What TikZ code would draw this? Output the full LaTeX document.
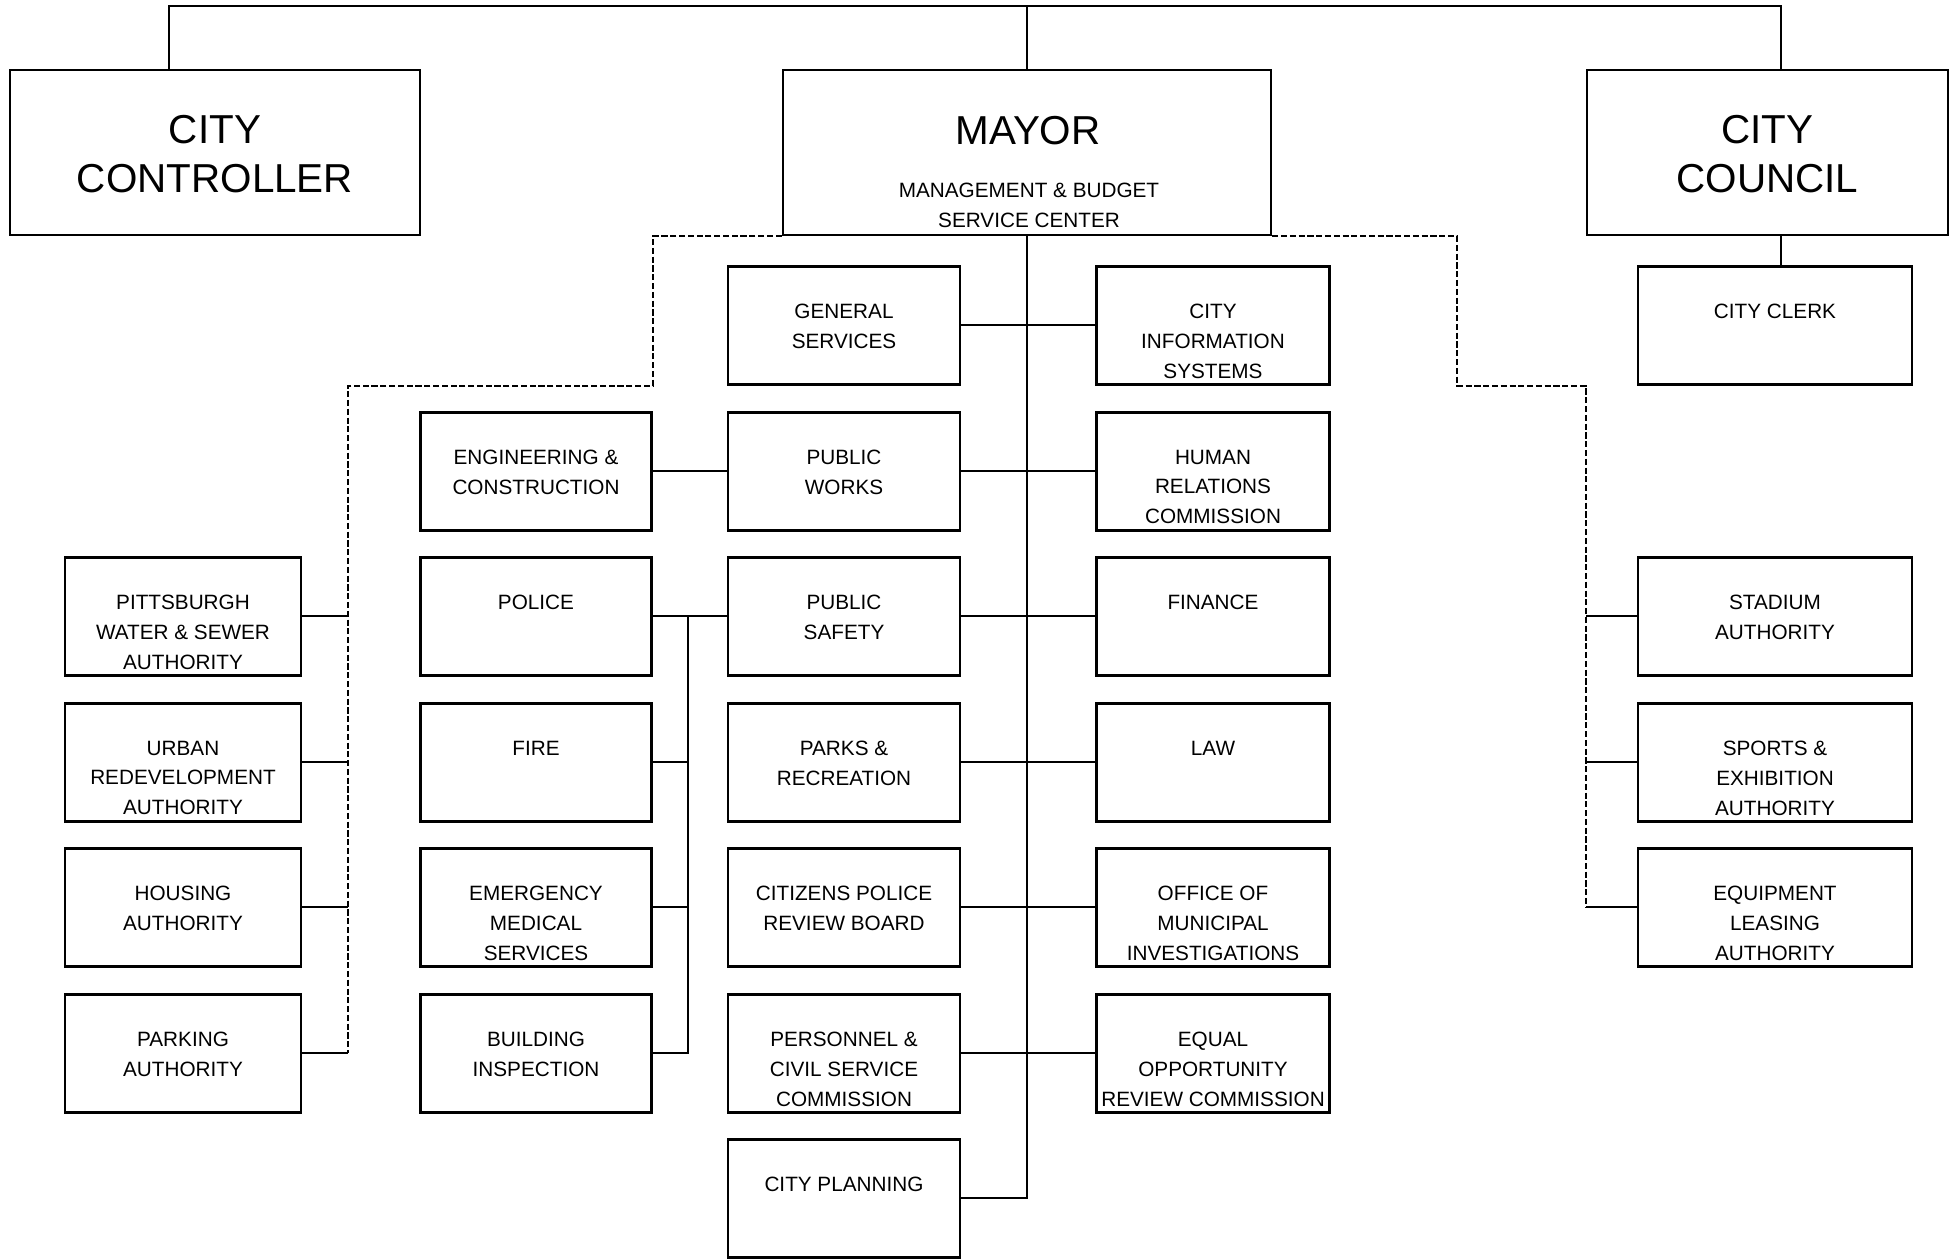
\documentclass[tikz,border=0pt]{standalone}
\usepackage{fontspec}
\setmainfont{Liberation Sans}
\usetikzlibrary{positioning}

\tikzset{
  topbox/.style={draw, line width=1.5pt, minimum width=#1, minimum height=3.3cm, inner sep=0pt},
  deptbox/.style={draw, line width=1.5pt, anchor=north, minimum width=#1, minimum height=2.36cm, inner sep=0pt},
  deptbox/.default=4.64cm,
  depttext/.style={anchor=north, yshift=-0.77cm, inner sep=0pt, align=center, font=\fontsize{11.8}{17}\selectfont},
  bigtext/.style={align=center, inner sep=0pt, yshift=-0.04cm, font=\fontsize{23}{27.8}\selectfont},
  smalltext/.style={align=center, inner sep=0pt, font=\fontsize{11.8}{17}\selectfont},
  link/.style={line width=1.1pt},
  dotlink/.style={line width=1.1pt, dash pattern=on 3.5pt off 1.5pt},
}

% box with its text at the top
\newcommand{\dept}[5]{%
  \node[deptbox=#2] (#1) at (#3,#4) {};
  \node[depttext] (#1-txt) at (#1.north) {#5};
}

\begin{document}
\begin{tikzpicture}[x=0.02cm, y=-0.02cm]
    \useasboundingbox (0,0) rectangle (1958,1258);
    %Top
    \node[topbox=8.2cm] (ctrl) at (215,152.5) {};
    \node[bigtext] (ctrl-txt) at (ctrl.center) {CITY\\CONTROLLER};
    \node[topbox=9.76cm] (mayor) at (1027,152.5) {};
    \node[bigtext] (mayor-txt) at (1028,128.6) {MAYOR};
    \node[smalltext] (mayor-sub) at (1029,205.5) {MANAGEMENT \& BUDGET\\SERVICE CENTER};
    \node[topbox=7.22cm] (council) at (1767.5,152.5) {};
    \node[bigtext] (council-txt) at (council.center) {CITY\\COUNCIL};
    \coordinate (top-l) at (169,6);
    \coordinate (top-r) at (1781,6);
    \draw[link] (ctrl.north -| top-l) -- (top-l) -- (top-r) -- (council.north -| top-r);
    \draw[link] (mayor.north) -- (mayor.north |- top-l);
    %Row 1
    \dept{gs}{4.64cm}{844}{265}{GENERAL\\SERVICES}
    \dept{cis}{4.66cm}{1213}{265}{CITY\\INFORMATION\\SYSTEMS}
    \dept{clerk}{5.48cm}{1775}{265}{CITY CLERK}
    %Row 2
    \dept{eng}{4.62cm}{536}{411}{ENGINEERING \&\\CONSTRUCTION}
    \dept{pw}{4.64cm}{844}{411}{PUBLIC\\WORKS}
    \dept{hrc}{4.66cm}{1213}{411}{HUMAN\\RELATIONS\\COMMISSION}
    %Row 3
    \dept{pwsa}{4.72cm}{183}{556}{PITTSBURGH\\WATER \& SEWER\\AUTHORITY}
    \dept{police}{4.62cm}{536}{556}{POLICE}
    \dept{ps}{4.64cm}{844}{556}{PUBLIC\\SAFETY}
    \dept{fin}{4.66cm}{1213}{556}{FINANCE}
    \dept{stadium}{5.48cm}{1775}{556}{STADIUM\\AUTHORITY}
    %Row 4
    \dept{ura}{4.72cm}{183}{702}{URBAN\\REDEVELOPMENT\\AUTHORITY}
    \dept{fire}{4.62cm}{536}{702}{FIRE}
    \dept{parks}{4.64cm}{844}{702}{PARKS \&\\RECREATION}
    \dept{law}{4.66cm}{1213}{702}{LAW}
    \dept{sports}{5.48cm}{1775}{702}{SPORTS \&\\EXHIBITION\\AUTHORITY}
    %Row 5
    \dept{housing}{4.72cm}{183}{847}{HOUSING\\AUTHORITY}
    \dept{ems}{4.62cm}{536}{847}{EMERGENCY\\MEDICAL\\SERVICES}
    \dept{cprb}{4.64cm}{844}{847}{CITIZENS POLICE\\REVIEW BOARD}
    \dept{omi}{4.66cm}{1213}{847}{OFFICE OF\\MUNICIPAL\\INVESTIGATIONS}
    \dept{equip}{5.48cm}{1775}{847}{EQUIPMENT\\LEASING\\AUTHORITY}
    %Row 6
    \dept{parking}{4.72cm}{183}{993}{PARKING\\AUTHORITY}
    \dept{bldg}{4.62cm}{536}{993}{BUILDING\\INSPECTION}
    \dept{pcsc}{4.64cm}{844}{993}{PERSONNEL \&\\CIVIL SERVICE\\COMMISSION}
    \dept{eorc}{4.66cm}{1213}{993}{EQUAL\\OPPORTUNITY\\REVIEW COMMISSION}
    %Row 7
    \dept{plan}{4.64cm}{844}{1138}{CITY PLANNING}
    %Council line
    \draw[link] (council.south -| top-r) -- (clerk.north -| top-r);
    %Mayor spine
    \draw[link] (mayor.south) -- (mayor.south |- plan.east) -- (plan.east);
    \draw[link] (gs.east) -- (cis.west);
    \draw[link] (pw.east) -- (hrc.west);
    \draw[link] (ps.east) -- (fin.west);
    \draw[link] (parks.east) -- (law.west);
    \draw[link] (cprb.east) -- (omi.west);
    \draw[link] (pcsc.east) -- (eorc.west);
    %Public works and safety
    \draw[link] (eng.east) -- (pw.west);
    \coordinate (bus) at (688,0);
    \draw[link] (police.east) -- (ps.west);
    \draw[link] (police.east -| bus) -- (bldg.east -| bus) -- (bldg.east);
    \draw[link] (fire.east) -- (fire.east -| bus);
    \draw[link] (ems.east) -- (ems.east -| bus);
    %Left authorities
    \coordinate (lbus) at (348,0);
    \draw[dotlink] (mayor.south west) -- (mayor.south west -| eng.east) -- (gs.south -| eng.east)
        -- (gs.south -| lbus) -- (parking.east -| lbus);
    \draw[link] (pwsa.east) -- (pwsa.east -| lbus);
    \draw[link] (ura.east) -- (ura.east -| lbus);
    \draw[link] (housing.east) -- (housing.east -| lbus);
    \draw[link] (parking.east) -- (parking.east -| lbus);
    %Right authorities
    \coordinate (rbus) at (1457,0);
    \draw[dotlink] (mayor.south east) -- (mayor.south east -| rbus) -- (cis.south -| rbus)
        -- (cis.south -| council.west) -- (equip.west -| council.west);
    \draw[link] (stadium.west) -- (stadium.west -| council.west);
    \draw[link] (sports.west) -- (sports.west -| council.west);
    \draw[link] (equip.west) -- (equip.west -| council.west);
\end{tikzpicture}
\end{document}
